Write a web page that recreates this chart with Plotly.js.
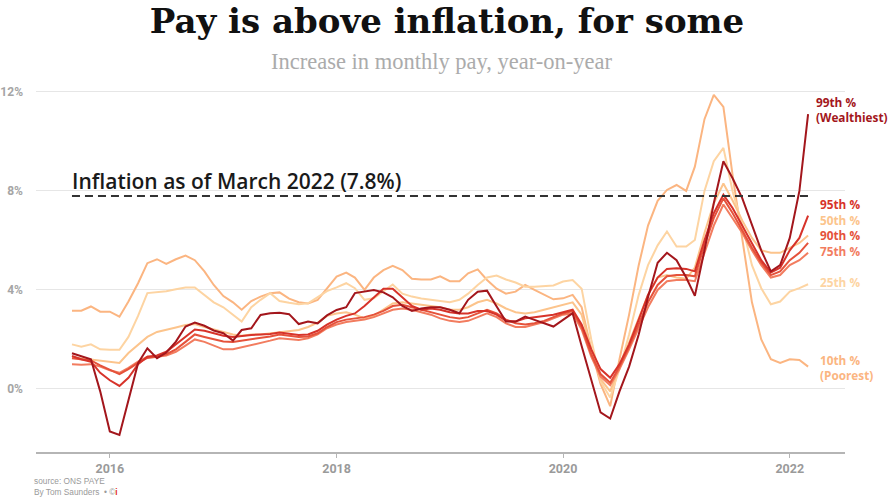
<!DOCTYPE html>
<html>
<head>
<meta charset="utf-8">
<script src="https://cdn.plot.ly/plotly-3.0.1.min.js"></script>
<style>
  html, body { margin: 0; padding: 0; background: #ffffff; }
  #chart { width: 894px; height: 497px; }
</style>
</head>
<body>
<div id="chart"></div>
<script>
// ---------- DATA ----------
const firstMonth = [2015, 9];   // September 2015
const monthCount = 79;          // through March 2022

const p99 = [1.44,1.33,1.2,-0.1,-1.72,-1.86,-0.45,1.04,1.64,1.24,
  1.47,1.91,2.52,2.68,2.55,2.36,2.25,1.95,2.38,2.45,
  2.99,3.06,3.08,3.02,2.62,2.72,2.65,2.97,3.19,3.3,
  3.87,3.93,4.0,3.9,3.7,3.35,3.15,3.25,3.3,3.3,
  3.2,3.06,3.6,3.93,3.97,3.33,2.72,2.72,2.92,2.79,
  2.65,2.52,2.79,3.06,1.73,0.41,-0.95,-1.2,-0.1,0.9,
  2.2,3.7,5.1,5.5,5.2,4.5,3.76,5.6,7.5,9.2,
  8.5,7.7,6.6,5.6,4.75,5.0,6.1,8.0,11.1];

const p95 = [1.33,1.2,1.1,0.65,0.35,0.12,0.45,1.0,1.3,1.35,
  1.5,1.8,2.1,2.4,2.35,2.25,2.15,2.1,2.15,2.18,
  2.2,2.22,2.28,2.22,2.18,2.2,2.35,2.6,2.8,2.95,
  3.05,3.35,3.7,4.05,4.05,3.7,3.35,3.2,3.25,3.2,
  3.1,3.05,3.05,3.15,3.15,3.0,2.75,2.72,2.85,2.9,
  2.95,3.0,3.1,3.2,2.6,1.6,0.8,0.45,1.0,1.8,
  2.8,3.8,4.5,4.85,4.88,4.85,4.75,6.0,7.1,7.85,
  7.3,6.6,5.9,5.2,4.7,4.9,5.6,6.1,7.0];

const p90 = [1.24,1.2,1.15,0.95,0.78,0.6,0.8,1.05,1.25,1.3,
  1.4,1.6,1.9,2.2,2.1,2.0,1.92,1.9,1.95,2.0,
  2.05,2.12,2.2,2.15,2.1,2.12,2.25,2.5,2.7,2.8,
  2.85,2.9,3.0,3.15,3.35,3.4,3.3,3.2,3.1,3.0,
  2.9,2.85,2.9,3.05,3.2,3.05,2.8,2.65,2.6,2.65,
  2.75,2.9,3.05,3.15,2.5,1.4,0.6,0.25,0.9,1.7,
  2.6,3.5,4.2,4.55,4.6,4.6,4.55,5.8,6.9,7.7,
  7.1,6.4,5.7,5.1,4.6,4.75,5.2,5.5,5.9];

const p75 = [1.0,0.98,1.0,0.9,0.75,0.65,0.85,1.1,1.3,1.3,
  1.35,1.5,1.75,2.0,1.9,1.75,1.6,1.6,1.68,1.75,
  1.85,1.95,2.05,2.0,1.98,2.05,2.2,2.45,2.6,2.7,
  2.75,2.8,2.9,3.05,3.2,3.25,3.2,3.1,3.0,2.85,
  2.75,2.7,2.75,2.9,3.05,2.9,2.65,2.5,2.5,2.6,
  2.7,2.85,3.0,3.05,2.4,1.3,0.5,0.15,0.8,1.6,
  2.5,3.3,4.0,4.35,4.4,4.4,4.35,5.5,6.6,7.45,
  6.9,6.3,5.6,5.0,4.5,4.6,5.0,5.2,5.5];

const p50 = [1.28,1.24,1.2,1.15,1.1,1.05,1.45,1.8,2.1,2.3,
  2.38,2.48,2.58,2.62,2.5,2.4,2.28,2.2,2.15,2.2,
  2.2,2.25,2.28,2.32,2.38,2.5,2.68,2.95,3.05,3.1,
  3.0,2.85,2.95,3.2,3.45,3.5,3.45,3.4,3.35,3.3,
  3.2,3.2,3.3,3.5,3.6,3.45,3.25,3.1,3.05,3.1,
  3.2,3.3,3.4,3.5,3.0,1.6,0.4,-0.1,0.9,1.9,
  2.9,3.8,4.5,4.6,4.5,4.45,4.9,6.3,7.5,8.3,
  7.6,6.8,6.1,5.6,5.5,5.5,5.7,5.9,6.2];

const p25 = [1.8,1.7,1.8,1.6,1.58,1.58,2.1,2.95,3.87,3.9,
  3.95,4.03,4.1,4.1,3.8,3.5,3.3,3.0,2.72,3.3,
  3.6,3.87,3.55,3.48,3.42,3.46,3.7,3.95,4.1,4.27,
  4.07,3.6,3.66,3.95,4.22,3.85,3.73,3.65,3.6,3.55,
  3.5,3.6,3.85,4.2,4.5,4.58,4.42,4.3,4.13,4.13,
  4.16,4.18,4.34,4.4,4.05,2.0,0.3,-0.35,0.8,2.2,
  3.8,5.0,5.8,6.36,5.75,5.75,6.02,8.0,9.2,9.74,
  7.97,6.6,5.0,4.07,3.42,3.53,3.93,4.07,4.23];

const p10 = [3.16,3.16,3.33,3.12,3.12,2.92,3.53,4.27,5.08,5.24,
  5.05,5.24,5.39,5.2,4.75,4.2,3.75,3.5,3.2,3.55,
  3.73,3.87,3.9,3.65,3.5,3.45,3.6,4.05,4.54,4.7,
  4.5,4.0,4.5,4.8,4.97,4.8,4.45,4.42,4.42,4.55,
  4.35,4.35,4.67,4.83,4.4,4.05,3.85,3.93,4.2,4.0,
  3.82,3.62,3.66,3.8,3.3,1.6,0.2,-0.7,1.2,3.0,
  5.0,6.6,7.6,8.04,8.24,8.0,8.98,10.9,11.88,11.4,
  8.6,6.0,3.5,2.0,1.2,1.05,1.2,1.17,0.9];

const inflationValue = 7.8;
const inflationText = "Inflation as of March 2022 (7.8%)";

const seriesNames  = ["10th %", "25th %", "50th %", "75th %", "90th %", "95th %", "99th %"];
const seriesLabels = ["10th %<br>(Poorest)", "25th %", "50th %", "75th %", "90th %", "95th %", "99th %<br>(Wealthiest)"];
const labelValues  = [0.85, 4.32, 6.83, 5.56, 6.2, 7.49, 11.31];
const seriesColors = ["#fbb581", "#fdd4a2", "#fcc48c", "#f27c5f", "#e5523b", "#d7332a", "#a3161c"];
const allSeries    = [p10, p25, p50, p75, p90, p95, p99];

const yTickVals = [0, 4, 8, 12];
const yTickText = ["0%", "4%", "8%", "12%"];
const xTickVals = ["2016-01-01", "2018-01-01", "2020-01-01", "2022-01-01"];
const xTickText = ["2016", "2018", "2020", "2022"];

const titleText = "Pay is above inflation, for some";
const subtitleText = "Increase in monthly pay, year-on-year";
const sourceText = "source: ONS PAYE";
const bylineText = "By Tom Saunders  \u2022 \u00a9<span style=\"color:#e8302a\"><b>i</b></span>";

// ---------- BUILD ----------
const months = [];
for (let k = 0; k < monthCount; k++) {
  const m0 = firstMonth[1] - 1 + k;
  const y = firstMonth[0] + Math.floor(m0 / 12);
  const m = (m0 % 12) + 1;
  months.push(y + "-" + String(m).padStart(2, "0") + "-01");
}

const W = 894, H = 497;
const M = { l: 36, r: 49, t: 87, b: 45 };
const plotW = W - M.l - M.r;
const plotH = H - M.t - M.b;
function paperY(px) { return (H - M.b - px) / plotH; }
function paperX(px) { return (px - M.l) / plotW; }

const traces = allSeries.map((vals, i) => ({
  type: "scatter", mode: "lines",
  x: months, y: vals, name: seriesNames[i],
  line: { color: seriesColors[i], width: 2 },
  hoverinfo: "skip", showlegend: false
}));

traces.push({
  type: "scatter", mode: "lines",
  x: [months[0], months[months.length - 1]],
  y: [inflationValue, inflationValue],
  line: { color: "#333333", width: 2, dash: "8px,5px" },
  hoverinfo: "skip", showlegend: false
});

const annotations = [];
annotations.push({
  xref: "paper", yref: "paper", x: paperX(W / 2 - 5), y: paperY(62),
  xanchor: "center", yanchor: "middle", showarrow: false,
  text: subtitleText,
  font: { family: "Liberation Serif, serif", size: 22.5, color: "#ababab" }
});
annotations.push({
  xref: "x", yref: "y", x: months[0], y: inflationValue,
  xanchor: "left", yanchor: "bottom", xshift: -2, yshift: -1, showarrow: false,
  text: inflationText,
  font: { family: "Open Sans, sans-serif", size: 21, color: "#1a1a1a", weight: 600 }
});
seriesLabels.forEach((t, i) => {
  annotations.push({
    xref: "paper", yref: "y", x: paperX(i === 6 ? 816 : 820), y: labelValues[i],
    xanchor: "left", yanchor: "middle", align: "left", showarrow: false,
    borderpad: 0, borderwidth: 0,
    text: t,
    font: { family: "Open Sans, sans-serif", size: 11.8, color: seriesColors[i], weight: 700 }
  });
});
annotations.push({
  xref: "paper", yref: "paper", x: paperX(34), y: paperY(480.8),
  xanchor: "left", yanchor: "middle", align: "left", showarrow: false,
  borderpad: 0, borderwidth: 0,
  text: sourceText,
  font: { family: "Liberation Sans, sans-serif", size: 8.3, color: "#9a9a9a" }
});
annotations.push({
  xref: "paper", yref: "paper", x: paperX(34), y: paperY(491.6),
  xanchor: "left", yanchor: "middle", align: "left", showarrow: false,
  borderpad: 0, borderwidth: 0,
  text: bylineText,
  font: { family: "Liberation Sans, sans-serif", size: 8.3, color: "#9a9a9a" }
});

const layout = {
  width: W, height: H,
  margin: M,
  paper_bgcolor: "#ffffff", plot_bgcolor: "#ffffff",
  title: {
    text: titleText,
    x: 0.5, xref: "container", y: 1 - 21 / H, yref: "container", yanchor: "middle",
    font: { family: "DejaVu Serif, serif", size: 34, color: "#111111", weight: 900 }
  },
  xaxis: {
    type: "date",
    range: ["2015-05-08", "2022-06-28"],
    tickvals: xTickVals, ticktext: xTickText,
    showgrid: false, zeroline: false,
    showline: true, linecolor: "#b5b5b5", linewidth: 1.5,
    ticks: "outside", ticklen: 4, tickcolor: "#b5b5b5", tickwidth: 1,
    tickfont: { family: "Roboto, sans-serif", size: 12.5, color: "#9a9a9a", weight: 700 },
    fixedrange: true
  },
  yaxis: {
    range: [-2.55, 12.2],
    tickvals: yTickVals, ticktext: yTickText,
    showgrid: true, gridcolor: "#e6e6e6", gridwidth: 1,
    zeroline: false, showline: false, ticks: "",
    ticklabelstandoff: 12,
    tickfont: { family: "Roboto, sans-serif", size: 12, color: "#a5a5a5", weight: 700 },
    fixedrange: true
  },
  annotations: annotations,
  showlegend: false
};

Plotly.newPlot("chart", traces, layout, { displayModeBar: false, staticPlot: true });
</script>
</body>
</html>
